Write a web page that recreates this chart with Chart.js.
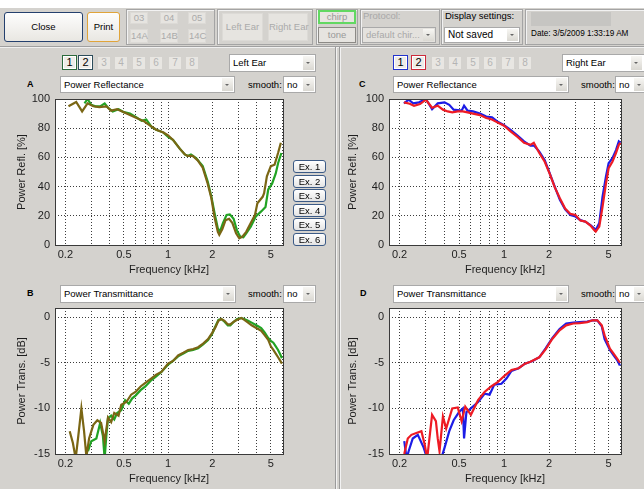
<!DOCTYPE html>
<html>
<head>
<meta charset="utf-8">
<script src="https://cdn.jsdelivr.net/npm/chart.js@4.4.1/dist/chart.umd.min.js"></script>
<style>
body{margin:0;width:644px;height:489px;overflow:hidden;background:#d4d2ce;font-family:Arial,"Liberation Sans",sans-serif;font-size:9.5px;position:relative;color:#000}
.a{position:absolute;box-sizing:border-box;white-space:nowrap}
.grp{border:1px solid #a4a4a4;box-shadow:inset 1px 1px 0 #f2f2f2}
.dis{background:#e6e4e0;border:1px solid #dcdad6;color:#aaa;text-align:center}
.btn{border-radius:3px;background:linear-gradient(#fdfdfd,#e9e7e2);text-align:center}
.dd{background:#fff;border:1px solid #a9a9a9;padding-left:3px}
.dd .ar{position:absolute;right:1px;top:1px;bottom:1px;width:11px;background:linear-gradient(#f7f6f3,#dad8d2)}
.dd .ar:after{content:'';position:absolute;left:3px;top:45%;border-left:2px solid transparent;border-right:2px solid transparent;border-top:2px solid #666}
.nb{width:15px;height:15px;background:#eeece8;box-shadow:inset 0 0 0 1px #fff;font-size:11px;text-align:center;line-height:13px}
.nd{width:12px;height:12px;background:#e8e6e2;color:#b4b4b4;font-size:10px;text-align:center;line-height:12px}
.ex{left:293px;width:33px;height:13px;border:1px solid #3b5a86;border-radius:3px;background:linear-gradient(#fff,#e4e4e4);text-align:center;line-height:11px;font-size:9.5px}
.lbl{font-weight:bold;font-size:9px}
canvas{position:absolute}
</style>
</head>
<body>
<!-- toolbar -->
<div class="a" style="left:0;top:0;width:644px;height:8px;background:#fff"></div>
<div class="a btn" style="left:4px;top:12px;width:79px;height:30px;border:1px solid #24406e;line-height:28px">Close</div>
<div class="a btn" style="left:87px;top:12px;width:33px;height:30px;border:1px solid #e0a43a;line-height:28px">Print</div>
<div class="a grp" style="left:126px;top:9px;width:89px;height:36px"></div>
<div class="a dis" style="left:130px;top:12px;width:18px;height:12px;line-height:10px">03</div>
<div class="a dis" style="left:160px;top:12px;width:18px;height:12px;line-height:10px">04</div>
<div class="a dis" style="left:188px;top:12px;width:18px;height:12px;line-height:10px">05</div>
<div class="a dis" style="left:130px;top:29px;width:18px;height:14px;line-height:12px">14A</div>
<div class="a dis" style="left:160px;top:29px;width:18px;height:14px;line-height:12px">14B</div>
<div class="a dis" style="left:188px;top:29px;width:18px;height:14px;line-height:12px">14C</div>
<div class="a grp" style="left:217px;top:9px;width:96px;height:36px"></div>
<div class="a dis" style="left:222px;top:13px;width:41px;height:28px;line-height:26px">Left Ear</div>
<div class="a dis" style="left:268px;top:13px;width:40px;height:28px;line-height:26px">Right Ear</div>
<div class="a grp" style="left:316px;top:9px;width:42px;height:36px"></div>
<div class="a" style="left:318px;top:10px;width:38px;height:14px;border:2px solid #62d862;background:#e8e6e2;color:#999;text-align:center;line-height:10px">chirp</div>
<div class="a" style="left:318px;top:27px;width:38px;height:16px;border:1px solid #8c8a86;background:#e6e4e0;color:#999;text-align:center;line-height:14px">tone</div>
<div class="a grp" style="left:360px;top:9px;width:80px;height:36px"></div>
<div class="a" style="left:363px;top:10px;color:#a8a8a8">Protocol:</div>
<div class="a dd" style="left:362px;top:27px;width:74px;height:16px;background:#e4e2de;color:#a8a8a8;line-height:14px">default chir...<span class="ar"></span></div>
<div class="a grp" style="left:441px;top:9px;width:82px;height:36px"></div>
<div class="a" style="left:445px;top:10px">Display settings:</div>
<div class="a dd" style="left:444px;top:27px;width:76px;height:16px;line-height:14px;font-size:10px">Not saved<span class="ar"></span></div>
<div class="a grp" style="left:525px;top:9px;width:125px;height:36px"></div>
<div class="a" style="left:531px;top:12px;width:80px;height:14px;background:#c6c5c2"></div>
<div class="a" style="left:531px;top:29px;font-size:8.2px">Date: 3/5/2009 1:33:19 AM</div>
<div class="a" style="left:0;top:46px;width:644px;height:1px;background:#a0a0a0"></div>
<div class="a" style="left:0;top:47px;width:644px;height:1px;background:#f0f0f0"></div>
<div class="a" style="left:335px;top:47px;width:1px;height:442px;background:#9a9a9a"></div>
<div class="a" style="left:336px;top:47px;width:1px;height:442px;background:#f2f2f2"></div>
<div class="a" style="left:339px;top:47px;width:1px;height:442px;background:#9a9a9a"></div>
<div class="a" style="left:340px;top:47px;width:1px;height:442px;background:#f2f2f2"></div>

<!-- left panel -->
<div class="a nb" style="left:62px;top:55px;border:1px solid #2c6a3c">1</div>
<div class="a nb" style="left:78px;top:55px;border:1px solid #2c4c5a">2</div>
<div class="a nd" style="left:98px;top:57px">3</div>
<div class="a nd" style="left:115px;top:57px">4</div>
<div class="a nd" style="left:133px;top:57px">5</div>
<div class="a nd" style="left:150px;top:57px">6</div>
<div class="a nd" style="left:169px;top:57px">7</div>
<div class="a nd" style="left:186px;top:57px">8</div>
<div class="a dd" style="left:229px;top:54px;width:87px;height:18px;line-height:16px">Left Ear<span class="ar"></span></div>
<div class="a lbl" style="left:27px;top:79px">A</div>
<div class="a dd" style="left:60px;top:76px;width:175px;height:17px;line-height:15px">Power Reflectance<span class="ar"></span></div>
<div class="a" style="left:248px;top:79px">smooth:</div>
<div class="a dd" style="left:283px;top:76px;width:33px;height:17px;line-height:15px">no<span class="ar"></span></div>
<div class="a lbl" style="left:27px;top:288px">B</div>
<div class="a dd" style="left:60px;top:285px;width:176px;height:18px;line-height:16px">Power Transmittance<span class="ar"></span></div>
<div class="a" style="left:248px;top:288px">smooth:</div>
<div class="a dd" style="left:283px;top:285px;width:33px;height:18px;line-height:16px">no<span class="ar"></span></div>

<!-- right panel -->
<div class="a nb" style="left:393px;top:55px;border:1px solid #2233cc">1</div>
<div class="a nb" style="left:411px;top:55px;border:1px solid #cc2a3a">2</div>
<div class="a nd" style="left:432px;top:57px">3</div>
<div class="a nd" style="left:449px;top:57px">4</div>
<div class="a nd" style="left:467px;top:57px">5</div>
<div class="a nd" style="left:484px;top:57px">6</div>
<div class="a nd" style="left:502px;top:57px">7</div>
<div class="a nd" style="left:519px;top:57px">8</div>
<div class="a dd" style="left:562px;top:54px;width:90px;height:18px;line-height:16px">Right Ear<span class="ar" style="right:9px"></span></div>
<div class="a lbl" style="left:359px;top:79px">C</div>
<div class="a dd" style="left:393px;top:76px;width:176px;height:17px;line-height:15px">Power Reflectance<span class="ar"></span></div>
<div class="a" style="left:581px;top:79px">smooth:</div>
<div class="a dd" style="left:615px;top:76px;width:36px;height:17px;line-height:15px">no<span class="ar" style="right:5px"></span></div>
<div class="a lbl" style="left:360px;top:288px">D</div>
<div class="a dd" style="left:393px;top:285px;width:176px;height:18px;line-height:16px">Power Transmittance<span class="ar"></span></div>
<div class="a" style="left:581px;top:288px">smooth:</div>
<div class="a dd" style="left:615px;top:285px;width:36px;height:18px;line-height:16px">no<span class="ar" style="right:5px"></span></div>

<canvas id="plotA" width="300" height="193" style="left:0;top:87px"></canvas>
<canvas id="plotB" width="300" height="193" style="left:0;top:296px"></canvas>
<canvas id="plotC" width="300" height="193" style="left:331px;top:87px"></canvas>
<canvas id="plotD" width="300" height="193" style="left:331px;top:296px"></canvas>

<div class="a ex" style="top:160px">Ex. 1</div>
<div class="a ex" style="top:175px">Ex. 2</div>
<div class="a ex" style="top:189px">Ex. 3</div>
<div class="a ex" style="top:204px">Ex. 4</div>
<div class="a ex" style="top:218px">Ex. 5</div>
<div class="a ex" style="top:233px">Ex. 6</div>

<script>
// frequency grid / tick labels (kHz)
const gridFreqs = [0.2, 0.3, 0.4, 0.5, 0.6, 0.7, 0.8, 0.9, 1, 2, 3, 4, 5, 6];
const labelFreqs = [0.2, 0.5, 1, 2, 5];
const reflTicks = [0, 20, 40, 60, 80, 100];
const transTicks = [-15, -10, -5, 0];

// A: left ear, power reflectance [%]
const freqA1 = [0.21, 0.237, 0.26, 0.283, 0.31, 0.34, 0.38, 0.41, 0.45, 0.5, 0.55, 0.61, 0.68, 0.75, 0.83, 0.93, 1.0, 1.08, 1.2, 1.3, 1.36, 1.47, 1.59, 1.72, 1.86, 1.97, 2.07, 2.18, 2.23, 2.34, 2.46, 2.6, 2.74, 2.9, 3.05, 3.2, 3.4, 3.65, 3.9, 4.05, 4.4, 4.5, 4.7, 5.0, 5.3, 5.6, 5.85];
const reflA1 = [95, 98, 91.5, 97, 95, 94.5, 95, 92, 93, 91, 89, 87, 85, 82, 79, 77, 75, 72, 66, 62, 61, 61, 58, 53, 42, 32, 19, 9, 7, 11, 17, 18, 15, 8, 4.6, 5.7, 9, 15, 20.6, 28.6, 33, 35.5, 47, 54, 55, 63, 70];
const freqA2 = [0.27, 0.283, 0.3, 0.32, 0.345, 0.37, 0.39, 0.42, 0.46, 0.5, 0.55, 0.61, 0.66, 0.71, 0.77, 0.83, 0.93, 1.0, 1.08, 1.2, 1.3, 1.36, 1.43, 1.55, 1.72, 1.86, 1.97, 2.07, 2.18, 2.25, 2.36, 2.5, 2.63, 2.79, 2.94, 3.1, 3.25, 3.4, 3.65, 3.95, 4.3, 4.6, 4.8, 5.1, 5.4, 5.6, 5.9];
const reflA2 = [97, 100, 96, 95, 95, 97, 94, 91.5, 93, 91, 90, 87.4, 85, 86, 81, 79, 77, 74, 72, 66, 62, 61, 62, 59.5, 54, 43.5, 33, 22, 11.4, 9, 15, 20.6, 21, 18, 10, 5.7, 5.3, 8, 12.6, 19.5, 23, 26, 38, 42, 49, 56, 63];

// B: left ear, power transmittance [dB]
const freqB1 = [0.214, 0.225, 0.235, 0.245, 0.257, 0.268, 0.278, 0.29, 0.31, 0.33, 0.35, 0.37, 0.39, 0.41, 0.43, 0.46, 0.48, 0.52, 0.56, 0.6, 0.65, 0.7, 0.77, 0.83, 0.9, 1.0, 1.08, 1.17, 1.27, 1.37, 1.48, 1.6, 1.73, 1.87, 2.0, 2.1, 2.2, 2.3, 2.42, 2.55, 2.65, 2.8, 2.95, 3.15, 3.3, 3.5, 3.7, 3.9, 4.1, 4.3, 4.55, 4.8, 5.0, 5.2, 5.4, 5.6, 5.8, 5.95];
const transB1 = [-12.5, -13.8, -15.5, -13, -10, -12.5, -15.3, -13.3, -11.8, -11.3, -11.6, -13.6, -11, -11.5, -10.5, -10.8, -9.6, -9.3, -8.5, -8.2, -7.6, -7.2, -6.7, -6.3, -6, -5.1, -4.8, -4.2, -3.9, -3.6, -3.5, -3.3, -2.9, -2.4, -1.7, -1.1, -0.4, -0.2, -0.4, -0.8, -0.8, -0.5, -0.3, -0.1, -0.3, -0.6, -0.9, -1.1, -1.3, -1.5, -2.0, -2.5, -3.2, -3.6, -4.0, -4.4, -4.8, -5.1];
const freqB2 = [0.285, 0.3, 0.325, 0.345, 0.36, 0.37, 0.38, 0.39, 0.41, 0.43, 0.45, 0.48, 0.51, 0.54, 0.57, 0.6, 0.65, 0.7, 0.77, 0.83, 0.9, 1.0, 1.08, 1.17, 1.27, 1.37, 1.48, 1.6, 1.73, 1.87, 2.0, 2.1, 2.2, 2.3, 2.42, 2.55, 2.65, 2.8, 2.95, 3.15, 3.3, 3.5, 3.7, 3.9, 4.1, 4.3, 4.55, 4.8, 5.0, 5.2, 5.4, 5.6, 5.8, 5.95];
const transB2 = [-14.7, -13.6, -13.3, -11.6, -13, -15.5, -13, -11.1, -10.8, -11.2, -10.5, -10.2, -9.1, -9.5, -8.9, -8.6, -8.0, -7.6, -6.9, -6.5, -6.0, -5.2, -4.8, -4.3, -4.0, -3.7, -3.6, -3.4, -3.0, -2.5, -1.8, -1.0, -0.3, -0.2, -0.5, -0.9, -0.9, -0.5, -0.2, -0.1, -0.2, -0.4, -0.6, -0.8, -1.0, -1.2, -1.7, -2.3, -2.6, -2.8, -3.2, -3.6, -4.1, -4.5];

// C: right ear, power reflectance [%]
const freqC1 = [0.214, 0.23, 0.247, 0.27, 0.3, 0.33, 0.36, 0.4, 0.43, 0.46, 0.52, 0.54, 0.57, 0.62, 0.69, 0.76, 0.83, 0.9, 1.0, 1.1, 1.23, 1.36, 1.5, 1.59, 1.72, 1.87, 2.02, 2.18, 2.36, 2.56, 2.78, 3.0, 3.24, 3.5, 3.78, 4.0, 4.1, 4.33, 4.55, 4.8, 5.0, 5.3, 5.6, 5.85, 6.0];
const reflC1 = [97, 99.5, 97, 97.7, 100, 93, 97, 97.7, 96, 92.7, 92, 95.4, 92, 91.5, 90, 88, 87.4, 84.7, 82, 79, 75, 71, 68, 68, 64, 58, 49, 40, 31, 24.5, 20.6, 19.5, 17, 16, 13.7, 11.4, 10.3, 15, 33, 47, 56, 59.5, 65, 71, 70];
const freqC2 = [0.214, 0.234, 0.25, 0.274, 0.3, 0.33, 0.36, 0.39, 0.42, 0.45, 0.49, 0.53, 0.57, 0.62, 0.69, 0.76, 0.83, 0.9, 1.0, 1.1, 1.23, 1.36, 1.5, 1.58, 1.72, 1.87, 2.02, 2.18, 2.36, 2.56, 2.78, 3.0, 3.24, 3.5, 3.78, 4.0, 4.1, 4.33, 4.55, 4.8, 5.0, 5.3, 5.6, 5.85, 6.0];
const reflC2 = [97.7, 96.8, 95.4, 96.5, 99.5, 94, 95.4, 92.7, 91.5, 90.8, 91.5, 91.5, 90.8, 90, 89, 87, 86, 84, 81.7, 78, 74, 70, 68.6, 70, 63, 57, 48.7, 39.6, 32, 25, 21.3, 20.6, 16.7, 16, 13.3, 10.3, 9.2, 12.6, 26, 42, 52.6, 57, 63, 68.6, 70];

// D: right ear, power transmittance [dB]
const freqD1 = [0.215, 0.223, 0.23, 0.245, 0.265, 0.29, 0.306, 0.33, 0.35, 0.38, 0.4, 0.43, 0.46, 0.5, 0.53, 0.54, 0.56, 0.6, 0.67, 0.74, 0.8, 0.86, 0.96, 1.04, 1.12, 1.25, 1.38, 1.55, 1.72, 1.9, 2.1, 2.35, 2.6, 2.9, 3.2, 3.6, 3.9, 4.2, 4.5, 4.7, 5.1, 5.4, 5.7, 5.95];
const transD1 = [-13.6, -15.5, -14.7, -13.3, -12.9, -14.3, -15.5, -16, -15.5, -15.5, -14.3, -12.5, -11.3, -10.4, -10, -13.3, -10.4, -10, -9.3, -8.4, -8.5, -7.4, -7.3, -6.7, -5.9, -5.6, -5.1, -4.8, -4.4, -3.4, -2.3, -1.3, -0.7, -0.6, -0.55, -0.5, -0.35, -0.35, -1.0, -2.4, -3.6, -4.2, -4.7, -5.3];
const freqD2 = [0.215, 0.227, 0.24, 0.259, 0.28, 0.295, 0.306, 0.33, 0.35, 0.36, 0.37, 0.39, 0.41, 0.45, 0.49, 0.52, 0.55, 0.6, 0.67, 0.74, 0.82, 0.91, 1.01, 1.12, 1.25, 1.38, 1.5, 1.72, 1.9, 2.1, 2.35, 2.6, 2.9, 3.2, 3.6, 3.9, 4.2, 4.5, 4.7, 5.1, 5.4, 5.7, 5.95];
const transD2 = [-15, -13.3, -12.9, -12.7, -12.5, -14, -15.5, -10.7, -11.4, -13.3, -14.7, -10.9, -12.2, -10, -9.9, -11.4, -9.8, -10.7, -9.1, -8.2, -7.6, -7.1, -6.4, -5.8, -5.6, -5.1, -4.9, -4.4, -3.5, -2.4, -1.45, -0.9, -0.7, -0.65, -0.55, -0.35, -0.35, -0.9, -2.0, -3.45, -4.0, -4.55, -5.0];

Chart.defaults.font.family = 'Arial, "Liberation Sans", sans-serif';
Chart.defaults.font.size = 11;
Chart.defaults.color = '#1e1e1e';

const boxPlugin = {
    id: 'box',
    beforeDraw(chart) {
        const a = chart.chartArea, ctx = chart.ctx;
        ctx.save();
        ctx.fillStyle = '#fff';
        ctx.fillRect(a.left, a.top, a.right - a.left, a.bottom - a.top);
        ctx.restore();
    },
    afterDatasetsDraw(chart) {
        const a = chart.chartArea, ctx = chart.ctx;
        ctx.save();
        ctx.strokeStyle = '#3a3a3a';
        ctx.lineWidth = 1;
        ctx.strokeRect(Math.round(a.left) + 0.5, Math.round(a.top) + 0.5, Math.round(a.right - a.left), Math.round(a.bottom - a.top));
        ctx.restore();
    }
};

function series(freqs, vals, color) {
    return {
        data: freqs.map((f, i) => ({x: f, y: vals[i]})),
        borderColor: color,
        borderWidth: 2.2,
        pointRadius: 0,
        tension: 0
    };
}

function makePlot(id, datasets, yTitle, yMin, yMax, yTicks, yWidth, padRight) {
    new Chart(document.getElementById(id), {
        type: 'line',
        data: {datasets: datasets},
        options: {
            responsive: false,
            devicePixelRatio: 1,
            animation: false,
            layout: {padding: {top: 12, right: padRight, left: 0, bottom: 0}},
            plugins: {legend: {display: false}, tooltip: {enabled: false}},
            scales: {
                x: {
                    type: 'logarithmic',
                    min: 0.17,
                    max: 6.05,
                    afterBuildTicks: s => { s.ticks = gridFreqs.map(v => ({value: v})); },
                    afterFit: s => { s.height = 35; },
                    ticks: {
                        autoSkip: false, maxRotation: 0, padding: 3,
                        callback: v => labelFreqs.includes(v) ? String(v) : ''
                    },
                    grid: {color: '#3c3c3c', lineWidth: 1, drawTicks: false},
                    border: {display: false, dash: [1, 2]},
                    title: {display: true, text: 'Frequency [kHz]', padding: {top: 0, bottom: 3}}
                },
                y: {
                    min: yMin,
                    max: yMax,
                    afterBuildTicks: s => { s.ticks = yTicks.map(v => ({value: v})); },
                    afterFit: s => { s.width = yWidth; },
                    ticks: {padding: 5},
                    grid: {color: '#3c3c3c', lineWidth: 1, drawTicks: false},
                    border: {display: false, dash: [1, 2]},
                    title: {display: true, text: yTitle, padding: {top: 15, bottom: 0}}
                }
            }
        },
        plugins: [boxPlugin]
    });
}

const olive = '#7a6614', green = '#22a324', blue = '#1c1ce6', red = '#ee1b24';

makePlot('plotA', [series(freqA1, reflA1, olive), series(freqA2, reflA2, green)],
    'Power Refl. [%]', 0, 100, reflTicks, 55, 17);
makePlot('plotB', [series(freqB1, transB1, olive), series(freqB2, transB2, green)],
    'Power Trans. [dB]', -15, 1, transTicks, 55, 17);
makePlot('plotC', [series(freqC2, reflC2, red), series(freqC1, reflC1, blue)],
    'Power Refl. [%]', 0, 100, reflTicks, 58, 10);
makePlot('plotD', [series(freqD2, transD2, red), series(freqD1, transD1, blue)],
    'Power Trans. [dB]', -15, 1, transTicks, 58, 10);
</script>
</body>
</html>
